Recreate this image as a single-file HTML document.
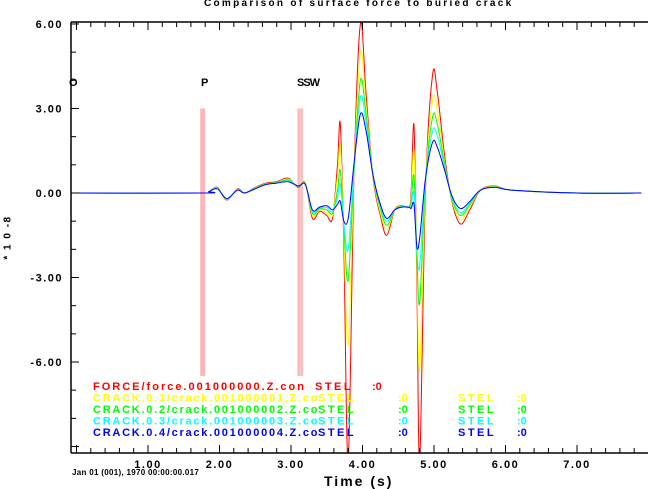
<!DOCTYPE html>
<html><head><meta charset="utf-8"><style>
body{margin:0;background:#fff;width:648px;height:489px;overflow:hidden;font-family:"Liberation Sans",sans-serif}
.t{position:absolute;font-weight:bold;white-space:pre;letter-spacing:1.5px}
</style></head><body>
<div style="position:relative;width:648px;height:489px">
<svg id="s" width="648" height="489" style="position:absolute;left:0;top:0"></svg>
<div class="t" style="left:204px;top:-2px;font-size:10px;letter-spacing:2.3px">Comparison of surface force to buried crack</div>
<div class="t" style="left:-14px;top:232px;font-size:10px;transform:rotate(-90deg)">* 1 0 -8</div>
<div class="t" style="left:324px;top:473px;font-size:14px;letter-spacing:2px">Time (s)</div>
<div class="t" style="left:72px;top:468px;font-size:8px;letter-spacing:0.3px">Jan 01 (001), 1970 00:00:00.017</div>
<div class="t" style="left:69px;top:77px;font-size:11px;letter-spacing:0">O</div>
<div class="t" style="left:201px;top:77px;font-size:11px;letter-spacing:0">P</div>
<div class="t" style="left:297px;top:77px;font-size:11px;letter-spacing:-1px">SSW</div>
</div>
<script>
const ticksX=[1,2,3,4,5,6,7];
const ticksY=[6,3,0,-3,-6];
const T=[-0.08,1.78,1.85,1.97,2.1,2.25,2.35,2.5,2.65,2.8,2.96,3.1,3.2,3.3,3.4,3.5,3.58,3.65,3.69,3.74,3.8,3.88,3.97,4.05,4.15,4.25,4.34,4.45,4.55,4.65,4.68,4.72,4.76,4.8,4.88,4.98,5.05,5.15,5.25,5.37,5.5,5.65,5.85,6.1,7.0,7.9];
const red=[0,0,0.05,0.2,-0.25,0.15,0.0,0.2,0.35,0.4,0.53,0.2,0.35,-0.9,-0.65,-0.8,-0.9,1.0,2.45,-2.0,-9.5,0.5,6.0,3.5,0.5,-0.8,-1.5,-0.6,-0.45,-0.5,0.0,2.4,-3.0,-9.5,0.0,4.2,3.5,1.3,-0.3,-1.1,-0.6,0.1,0.25,0.1,0,0];
const yellow=[0,0,0.05,0.18,-0.23,0.13,0,0.18,0.33,0.38,0.5,0.22,0.33,-0.8,-0.6,-0.7,-0.8,0.6,1.7,-1.5,-5.4,0.6,5.0,3.1,0.55,-0.7,-1.3,-0.6,-0.47,-0.5,-0.2,1.5,-2.5,-6.3,0.2,3.3,2.9,1.1,-0.25,-0.95,-0.5,0.1,0.23,0.1,0,0];
const green=[0,0,0.05,0.17,-0.22,0.12,0,0.17,0.32,0.37,0.47,0.23,0.32,-0.72,-0.56,-0.6,-0.72,0.1,0.8,-1.2,-3.1,0.7,4.0,2.8,0.58,-0.55,-1.15,-0.6,-0.48,-0.5,-0.35,0.6,-2.2,-3.9,0.3,2.7,2.4,1.0,-0.2,-0.8,-0.42,0.1,0.22,0.1,0,0];
const cyan=[0,0,0.05,0.16,-0.21,0.11,0,0.16,0.31,0.36,0.44,0.24,0.31,-0.66,-0.53,-0.52,-0.66,-0.15,0.3,-1.1,-2.0,0.8,3.4,2.5,0.6,-0.47,-1.0,-0.6,-0.49,-0.5,-0.45,0.0,-2.0,-2.6,0.4,2.2,2.0,0.9,-0.15,-0.7,-0.36,0.1,0.21,0.1,0,0];
const blue=[0,0,0.05,0.15,-0.2,0.1,0,0.15,0.3,0.35,0.4,0.25,0.3,-0.6,-0.5,-0.45,-0.6,-0.4,-0.3,-1.0,-0.9,1.0,2.8,2.2,0.6,-0.4,-0.9,-0.6,-0.5,-0.5,-0.55,-0.4,-1.9,-1.6,0.5,1.8,1.6,0.8,-0.1,-0.55,-0.3,0.1,0.2,0.1,0,0];
const series=[["red","#ff0000"],["yellow","#ffff00"],["green","#00ff00"],["cyan","#00ffff"],["blue","#0000ff"]];
const vals={red,yellow,green,cyan,blue};
const X=t=>76.5+71.5*t, Y=v=>193-28.17*v;
const L=71,R=648,TOP=22,B=453;
const s=document.getElementById('s');const NS='http://www.w3.org/2000/svg';
function mk(tag,a,name){const e=document.createElementNS(NS,tag);for(const k in a)e.setAttribute(k,a[k]);


s.appendChild(e);return e;}
const clip=mk('clipPath',{id:'c'},'plot-clip');const cr=document.createElementNS(NS,'rect');
cr.setAttribute('x',L);cr.setAttribute('y',TOP);cr.setAttribute('width',R-L);cr.setAttribute('height',B-TOP);clip.appendChild(cr);
[[1.73,5],[3.09,2.5],[3.13,2.5]].forEach(b=>mk('rect',{x:X(b[0]),y:Y(3),width:b[1],height:Y(-6.5)-Y(3),fill:'#ffb6b6'},'pick-bar'));
function smooth(P){let d='M'+P[0][0].toFixed(1)+','+P[0][1].toFixed(1);
 for(let i=0;i<P.length-1;i++){const p0=P[Math.max(0,i-1)],p1=P[i],p2=P[i+1],p3=P[Math.min(P.length-1,i+2)];
 const c1=[p1[0]+(p2[0]-p0[0])/6,p1[1]+(p2[1]-p0[1])/6],c2=[p2[0]-(p3[0]-p1[0])/6,p2[1]-(p3[1]-p1[1])/6];
 d+='C'+c1.map(v=>v.toFixed(1))+' '+c2.map(v=>v.toFixed(1))+' '+p2.map(v=>v.toFixed(1));}
 return d;}
for(const [n,c] of series){
 const P=T.map((t,i)=>[X(t),Y(vals[n][i])]);
 mk('path',{d:smooth(P),fill:'none',stroke:c,'stroke-width':1,'clip-path':'url(#c)'},'series-'+n);
}
mk('line',{x1:L,y1:TOP,x2:R,y2:TOP,stroke:'#000','stroke-width':1.5},'top-axis');
mk('line',{x1:L,y1:B,x2:R,y2:B,stroke:'#000','stroke-width':1.5},'x-axis');
mk('line',{x1:L,y1:TOP,x2:L,y2:B,stroke:'#000','stroke-width':1.5},'y-axis');
for(let i=0;i<=40;i++){const t=i*0.2;const x=X(t);if(x<L||x>R)continue;const maj=i%5==0;
 mk('line',{x1:x,y1:B,x2:x,y2:B-(maj?8:5),stroke:'#000'},'x-tick');
 mk('line',{x1:x,y1:TOP,x2:x,y2:TOP+(maj?8:5),stroke:'#000'},'x-tick-top');}
for(let v=6;v>=-9;v--){const y=Y(v);const maj=v%3==0;mk('line',{x1:L,y1:y,x2:L+(maj?8:5),y2:y,stroke:'#000'},'y-tick');}
ticksX.forEach(t=>{const e=mk('text',{x:X(t),y:468,'text-anchor':'middle','font-size':11,'font-weight':'bold','letter-spacing':1.5,'font-family':'Liberation Sans'},'x-tick-label');e.textContent=t.toFixed(2);});
ticksY.forEach(v=>{const e=mk('text',{x:63,y:Y(v)+4,'text-anchor':'end','font-size':11,'font-weight':'bold','letter-spacing':1.5,'font-family':'Liberation Sans'},'y-tick-label');e.textContent=v.toFixed(2);});
const legNames=["FORCE/force.001000000.Z.con","CRACK.0.1/crack.001000001.Z.co","CRACK.0.2/crack.001000002.Z.co","CRACK.0.3/crack.001000003.Z.co","CRACK.0.4/crack.001000004.Z.co"];
legNames.forEach((nm,i)=>{const c=series[i][1];const y=381+i*11.5;
 const e=mk('text',{x:93,y:y+9,fill:c,'font-size':11,'font-weight':'bold','letter-spacing':i?1.75:2,'font-family':'Liberation Sans'},'legend-entry');e.textContent=nm;
 const a=mk('text',{x:i?318:315,y:y+9,fill:c,'font-size':11,'font-weight':'bold','letter-spacing':2.5,'font-family':'Liberation Sans'},'legend-station');a.textContent='STEL';
 const b=mk('text',{x:i?398:372,y:y+9,fill:c,'font-size':11,'font-weight':'bold','font-family':'Liberation Sans'},'legend-value');b.textContent=':0';
 if(i){const a2=mk('text',{x:458,y:y+9,fill:c,'font-size':11,'font-weight':'bold','letter-spacing':2.5,'font-family':'Liberation Sans'},'legend-station-2');a2.textContent='STEL';
 const b2=mk('text',{x:517,y:y+9,fill:c,'font-size':11,'font-weight':'bold','font-family':'Liberation Sans'},'legend-value-2');b2.textContent=':0';}
});
</script>
</body></html>
